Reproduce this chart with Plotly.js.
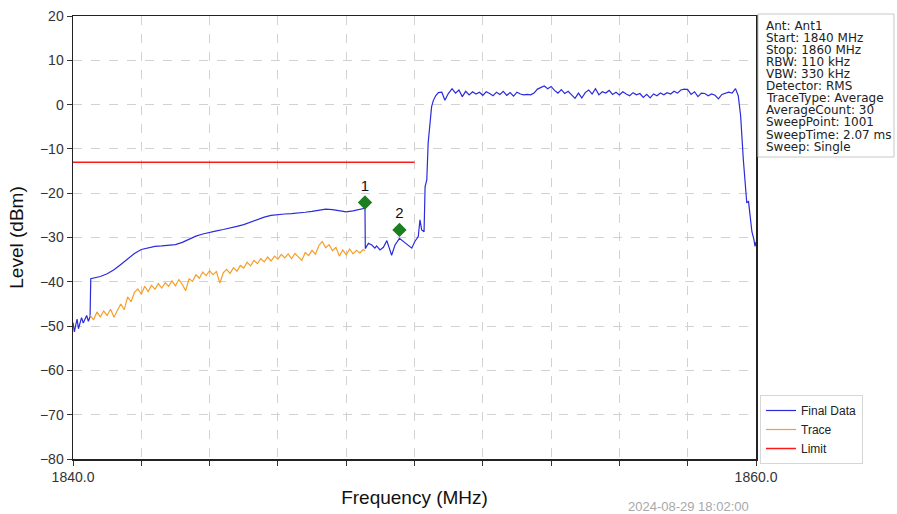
<!DOCTYPE html>
<html>
<head>
<meta charset="utf-8">
<script src="https://cdn.plot.ly/plotly-3.0.1.min.js"></script>
<style>html,body{margin:0;padding:0;background:#fff;}#chart{width:897px;height:514px;}</style>
</head>
<body>
<div id="chart"></div>
<script>
// ---------- DATA ----------
const finalFreq = [
  1840.00,1840.04,1840.08,1840.12,1840.16,1840.20,1840.25,1840.30,1840.35,1840.40,1840.45,1840.50,1840.52,
  1840.8,1841.0,1841.2,1841.4,1841.6,1841.8,1842.0,1842.2,1842.4,1842.6,1842.8,1843.0,1843.2,1843.4,1843.6,1843.8,
  1844.0,1844.2,1844.4,1844.6,1844.8,1845.0,1845.2,1845.4,1845.6,1845.8,1846.0,1846.2,1846.4,1846.6,1846.8,
  1847.0,1847.2,1847.4,1847.6,1847.8,1848.0,1848.2,1848.4,1848.55,
  1848.56,1848.65,1848.75,1848.84,1848.89,1848.99,1849.09,1849.19,1849.33,1849.43,1849.56,1849.67,1849.82,1849.92,
  1850.01,1850.11,1850.16,1850.21,1850.28,1850.31,1850.36,1850.40,1850.50,1850.55,1850.62,1850.70,1850.80,1850.89,1850.99,
  1851.1,1851.2,1851.3,1851.4,1851.5,1851.6,1851.7,1851.8,1851.9,1852.0,
  1852.1,1852.2,1852.3,1852.4,1852.5,1852.6,1852.7,1852.8,1852.9,1853.0,
  1853.1,1853.2,1853.3,1853.4,1853.5,1853.6,1853.7,1853.8,1853.9,1854.0,
  1854.1,1854.2,1854.3,1854.4,1854.5,1854.6,1854.7,1854.8,1854.9,1855.0,
  1855.1,1855.2,1855.3,1855.4,1855.5,1855.6,1855.7,1855.8,1855.9,1856.0,
  1856.1,1856.2,1856.3,1856.4,1856.5,1856.6,1856.7,1856.8,1856.9,1857.0,
  1857.1,1857.2,1857.3,1857.4,1857.5,1857.6,1857.7,1857.8,1857.9,1858.0,
  1858.1,1858.2,1858.3,1858.4,1858.5,1858.6,1858.7,1858.8,1858.9,1859.0,
  1859.1,1859.2,1859.3,1859.4,1859.48,1859.55,1859.63,1859.73,1859.78,1859.83,1859.88,1859.94,1859.97,1860.0
];
const finalLevel = [
  -49.2,-51.3,-49.8,-48.4,-50.6,-49.5,-48.1,-49.3,-48.6,-47.6,-48.9,-47.9,-39.3,
  -38.8,-38.2,-37.3,-36.1,-34.9,-33.6,-32.7,-32.3,-32.0,-31.9,-31.8,-31.6,-31.1,-30.4,-29.7,-29.2,
  -28.8,-28.5,-28.2,-27.9,-27.5,-27.1,-26.5,-26.0,-25.4,-25.0,-24.8,-24.7,-24.6,-24.5,-24.3,
  -24.1,-23.8,-23.6,-23.7,-24.0,-24.2,-24.0,-23.7,-23.4,
  -32.5,-31.3,-31.7,-32.4,-31.9,-32.8,-32.2,-30.7,-34.0,-31.7,-30.2,-30.9,-31.7,-32.4,
  -30.9,-29.8,-26.0,-28.3,-28.7,-18.5,-17.0,-8.7,-0.5,0.9,2.0,2.7,2.8,1.0,2.5,
  3.6,2.6,3.3,1.8,3.0,2.2,2.9,2.4,2.8,2.1,
  2.9,2.5,2.0,2.8,2.3,3.0,2.1,2.7,1.9,2.8,
  2.4,2.2,2.3,2.2,2.6,3.5,3.9,4.2,3.6,4.1,
  3.2,2.6,3.4,2.5,3.0,2.2,1.4,2.6,1.5,2.7,
  3.3,2.4,3.6,2.2,2.9,2.6,3.2,2.3,2.8,2.2,
  2.9,2.4,2.0,2.7,2.2,2.5,1.6,2.3,1.5,2.4,
  2.0,2.6,2.2,2.7,2.4,3.0,2.6,3.3,3.5,3.4,
  2.3,2.9,1.8,2.6,2.5,2.0,2.4,2.1,1.3,2.3,
  2.5,2.8,2.6,3.6,2.0,-2.5,-12.5,-22.2,-21.8,-25.0,-28.7,-30.5,-32.0,-31.0
];

const traceFreq = [
  1840.5,1840.6,1840.7,1840.8,1840.9,1841.0,1841.1,1841.2,1841.3,1841.4,
  1841.5,1841.6,1841.7,1841.8,1841.9,1842.0,1842.1,1842.2,1842.3,1842.4,
  1842.5,1842.6,1842.7,1842.8,1842.9,1843.0,1843.1,1843.2,1843.3,1843.4,
  1843.5,1843.6,1843.7,1843.8,1843.9,1844.0,1844.1,1844.2,1844.3,1844.4,
  1844.5,1844.6,1844.7,1844.8,1844.9,1845.0,1845.1,1845.2,1845.3,1845.4,
  1845.5,1845.6,1845.7,1845.8,1845.9,1846.0,1846.1,1846.2,1846.3,1846.4,
  1846.5,1846.6,1846.7,1846.8,1846.9,1847.0,1847.1,1847.2,1847.3,1847.4,
  1847.5,1847.6,1847.7,1847.8,1847.9,1848.0,1848.1,1848.2,1848.3,1848.4,
  1848.5,1848.55
];
const traceLevel = [
  -47.5,-48.6,-46.8,-47.9,-46.6,-47.6,-46.2,-48.0,-46.5,-45.0,
  -46.3,-43.4,-44.5,-42.4,-41.6,-42.8,-41.0,-42.2,-40.8,-41.7,
  -40.4,-41.4,-40.2,-41.0,-39.8,-40.9,-39.5,-40.6,-42.0,-39.3,
  -39.9,-38.4,-39.2,-37.8,-38.6,-37.5,-38.4,-37.7,-40.3,-38.0,
  -37.2,-38.1,-36.8,-37.6,-36.3,-36.9,-35.6,-36.4,-35.2,-35.9,
  -34.8,-35.5,-34.4,-35.3,-34.2,-34.9,-33.8,-34.6,-33.7,-34.8,
  -33.6,-34.5,-35.2,-33.4,-34.1,-32.9,-33.8,-31.8,-30.9,-32.3,
  -31.6,-33.0,-32.2,-34.2,-32.8,-33.9,-32.6,-33.7,-32.9,-33.5,
  -32.7,-33.0
];

const limitFreq = [1840, 1850];
const limitLevel = [-13, -13];

const markerFreq = [1848.55, 1849.56];
const markerLevel = [-22.1, -28.3];
const markerLabels = ['1', '2'];

const xTickVals = [1840,1842,1844,1846,1848,1850,1852,1854,1856,1858,1860];
const xTickText = ['1840.0','','','','','','','','','','1860.0'];

const infoLines = [
  'Ant: Ant1','Start: 1840 MHz','Stop: 1860 MHz','RBW: 110 kHz','VBW: 330 kHz',
  'Detector: RMS','TraceType: Average','AverageCount: 30','SweepPoint: 1001',
  'SweepTime: 2.07 ms','Sweep: Single'
];
const timestamp = '2024-08-29 18:02:00';

// ---------- LAYOUT HELPERS ----------
const L = 73, R = 756, T = 16, B = 459;
const px2x = p => (p - L) / (R - L);
const py2y = p => (B - p) / (B - T);
const FONT = 'Liberation Sans, Arial, Helvetica, sans-serif';
const INFOFONT = 'DejaVu Sans, Liberation Sans, sans-serif';

const traces = [
  {x: finalFreq, y: finalLevel, type: 'scatter', mode: 'lines', name: 'Final Data',
   line: {color: '#2b2bdc', width: 1.2}},
  {x: traceFreq, y: traceLevel, type: 'scatter', mode: 'lines', name: 'Trace',
   line: {color: '#f59f2a', width: 1.2}},
  {x: limitFreq, y: limitLevel, type: 'scatter', mode: 'lines', name: 'Limit',
   line: {color: '#ff1a1a', width: 1.5}},
  {x: markerFreq, y: markerLevel, type: 'scatter', mode: 'markers+text', text: markerLabels,
   textposition: 'top center', textfont: {size: 15, color: '#111', family: FONT},
   marker: {symbol: 'diamond', size: 11, color: '#1e7d1e'}, showlegend: false, hoverinfo: 'skip'}
];

const annotations = infoLines.map((t, i) => ({
  text: t, xref: 'paper', yref: 'paper', x: px2x(764), y: py2y(25.7 + i * 12.1),
  xanchor: 'left', yanchor: 'middle', showarrow: false,
  font: {size: 12, color: '#222', family: INFOFONT}
}));
annotations.push({
  text: timestamp, xref: 'paper', yref: 'paper', x: px2x(626), y: py2y(506),
  xanchor: 'left', yanchor: 'middle', showarrow: false,
  font: {size: 13, color: '#a8a8a8', family: FONT}
});

const layout = {
  width: 897, height: 514, autosize: false,
  margin: {l: L, r: 897 - R, t: T, b: 514 - B, pad: 0},
  paper_bgcolor: '#fff', plot_bgcolor: '#fff',
  font: {family: FONT, color: '#333'},
  showlegend: true,
  legend: {x: px2x(760), y: py2y(395), xanchor: 'left', yanchor: 'top',
    bgcolor: '#fff', bordercolor: '#d6d6d6', borderwidth: 1,
    font: {size: 12, color: '#222', family: FONT}, traceorder: 'normal'},
  xaxis: {
    range: [1840, 1860], tickmode: 'array', tickvals: xTickVals, ticktext: xTickText,
    ticks: 'outside', ticklen: 5, tickcolor: '#333', tickwidth: 1,
    showline: true, mirror: true, linecolor: '#222', linewidth: 1.5,
    showgrid: true, gridcolor: '#d2d2d2', griddash: 'dash', gridwidth: 1, zeroline: false,
    tickfont: {size: 14, color: '#333', family: FONT}, automargin: false,
    title: {text: 'Frequency (MHz)', font: {size: 19, color: '#111', family: FONT}, standoff: 6}
  },
  yaxis: {
    range: [-80, 20], dtick: 10, tick0: 0,
    ticks: 'outside', ticklen: 5, tickcolor: '#333', tickwidth: 1,
    showline: true, mirror: true, linecolor: '#222', linewidth: 1.5,
    showgrid: true, gridcolor: '#d2d2d2', griddash: 'dash', gridwidth: 1, zeroline: false,
    tickfont: {size: 14, color: '#333', family: FONT}, automargin: false,
    title: {text: 'Level (dBm)', font: {size: 19, color: '#111', family: FONT}, standoff: 11}
  },
  shapes: [
    {type: 'rect', xref: 'paper', yref: 'paper', x0: px2x(758), x1: px2x(894), y0: py2y(157), y1: py2y(14),
     line: {color: '#c8c8c8', width: 1}, fillcolor: 'rgba(0,0,0,0)'}
  ],
  annotations: annotations
};

Plotly.newPlot('chart', traces, layout, {displayModeBar: false, staticPlot: true});
</script>
</body>
</html>
